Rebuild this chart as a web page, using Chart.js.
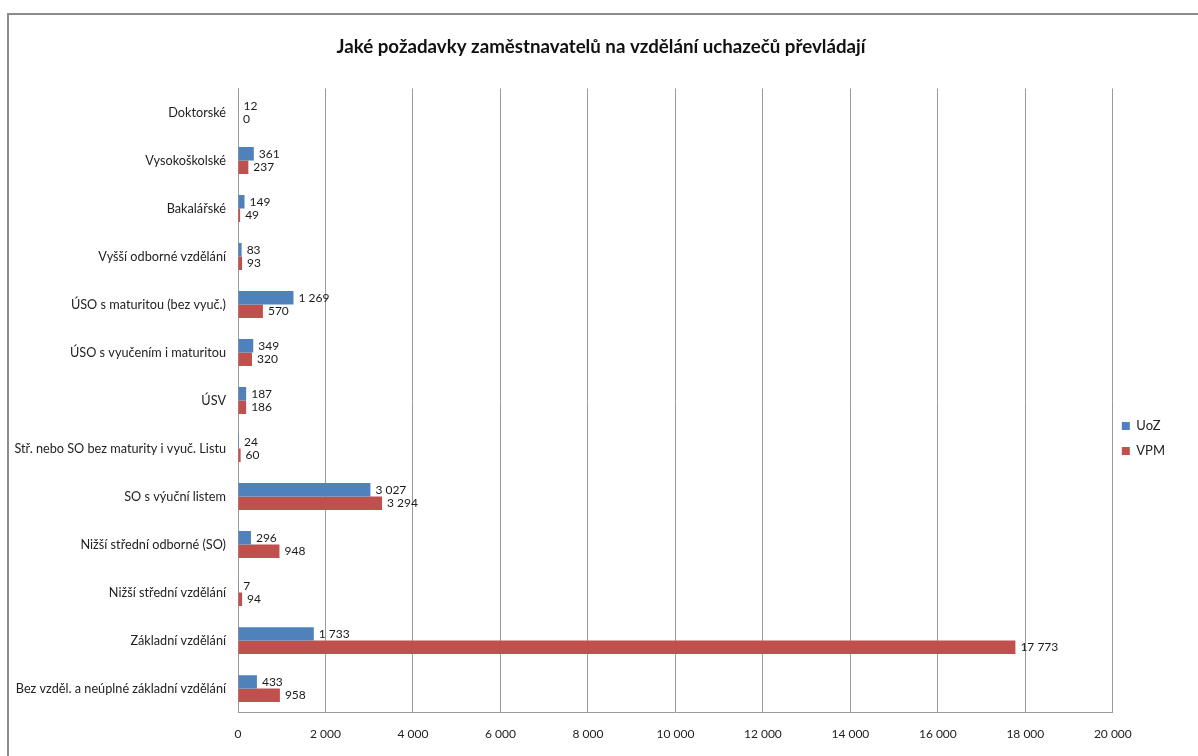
<!DOCTYPE html>
<html lang="cs">
<head>
  <meta charset="UTF-8">
  <title>Požadavky zaměstnavatelů na vzdělání</title>
  <script src="https://cdn.jsdelivr.net/npm/chart.js"></script>
  <style>
    html, body { margin: 0; padding: 0; background: #fff; }
    #ramec {
      position: absolute; left: 7px; top: 13px; width: 1300px; height: 900px;
      border-top: 2px solid #8c8c8c; border-left: 2px solid #8c8c8c;
    }
    #obal { position: absolute; left: 0; top: 0; width: 1198px; height: 756px; }
  </style>
</head>
<body>
<div id="ramec"></div>
<div id="obal"><canvas id="graf" width="1198" height="756"></canvas></div>

<script>
  const kategorie = [
    'Doktorské',
    'Vysokoškolské',
    'Bakalářské',
    'Vyšší odborné vzdělání',
    'ÚSO s maturitou (bez vyuč.)',
    'ÚSO s vyučením i maturitou',
    'ÚSV',
    'Stř. nebo SO bez maturity i vyuč. Listu',
    'SO s výuční listem',
    'Nižší střední odborné (SO)',
    'Nižší střední vzdělání',
    'Základní vzdělání',
    'Bez vzděl. a neúplné základní vzdělání'
  ];
  const uoz = [12, 361, 149, 83, 1269, 349, 187, 24, 3027, 296, 7, 1733, 433];
  const vpm = [0, 237, 49, 93, 570, 320, 186, 60, 3294, 948, 94, 17773, 958];
  const osaX = [0, 2000, 4000, 6000, 8000, 10000, 12000, 14000, 16000, 18000, 20000];

  const PISMO = 'Lato, "Open Sans", sans-serif';

  // 17773 -> "17 773"
  function cislo(v) {
    return String(v).replace(/\B(?=(\d{3})+(?!\d))/g, ' ');
  }

  // popisky hodnot za koncem sloupců
  const popiskyHodnot = {
    id: 'popiskyHodnot',
    afterDatasetsDraw(chart) {
      const ctx = chart.ctx;
      ctx.save();
      ctx.font = '12px ' + PISMO;
      ctx.fillStyle = '#1a1a1a';
      ctx.textAlign = 'left';
      ctx.textBaseline = 'middle';
      chart.data.datasets.forEach((ds, i) => {
        chart.getDatasetMeta(i).data.forEach((bar, j) => {
          ctx.fillText(cislo(ds.data[j]), bar.x + 5, bar.y);
        });
      });
      ctx.restore();
    }
  };

  // nadpis na střed celého rámečku, legenda na jeho svislý střed
  const posuny = {
    id: 'posuny',
    afterLayout(chart) {
      const t = chart.titleBlock;
      t.left += 12;
      t.right += 12;
      const l = chart.legend;
      l.top += 61;
      l.bottom += 61;
      l.left -= 3;
      l.right -= 3;
    }
  };

  new Chart(document.getElementById('graf'), {
    type: 'bar',
    data: {
      labels: kategorie,
      datasets: [
        { label: 'UoZ', data: uoz, backgroundColor: '#4F81BD' },
        { label: 'VPM', data: vpm, backgroundColor: '#C0504D' }
      ]
    },
    options: {
      indexAxis: 'y',
      responsive: false,
      animation: false,
      barPercentage: 1,
      categoryPercentage: 0.56,
      layout: { padding: { left: 0, right: 20, top: 0, bottom: 1 } },
      plugins: {
        title: {
          display: true,
          text: 'Jaké požadavky zaměstnavatelů na vzdělání uchazečů převládají',
          color: '#111',
          font: { family: PISMO, size: 18.7, weight: 'bold' },
          padding: { top: 36, bottom: 30 }
        },
        legend: {
          position: 'right',
          labels: {
            boxWidth: 8,
            boxHeight: 8,
            padding: 12,
            color: '#222',
            font: { family: PISMO, size: 13 }
          }
        },
        tooltip: { enabled: false }
      },
      scales: {
        x: {
          min: 0,
          max: 20000,
          afterBuildTicks(scale) {
            scale.ticks = osaX.map(v => ({ value: v }));
          },
          ticks: {
            callback: v => cislo(v),
            color: '#222',
            padding: 14,
            maxRotation: 0,
            font: { family: PISMO, size: 12 }
          },
          grid: { color: '#9a9a9a', drawTicks: false },
          border: { color: '#9a9a9a' }
        },
        y: {
          afterFit(scale) { scale.width = 238; },
          ticks: {
            color: '#222',
            padding: 12,
            font: { family: PISMO, size: 12.7 }
          },
          grid: { display: false, drawTicks: false },
          border: { color: '#9a9a9a' }
        }
      }
    },
    plugins: [popiskyHodnot, posuny]
  });
</script>
</body>
</html>
